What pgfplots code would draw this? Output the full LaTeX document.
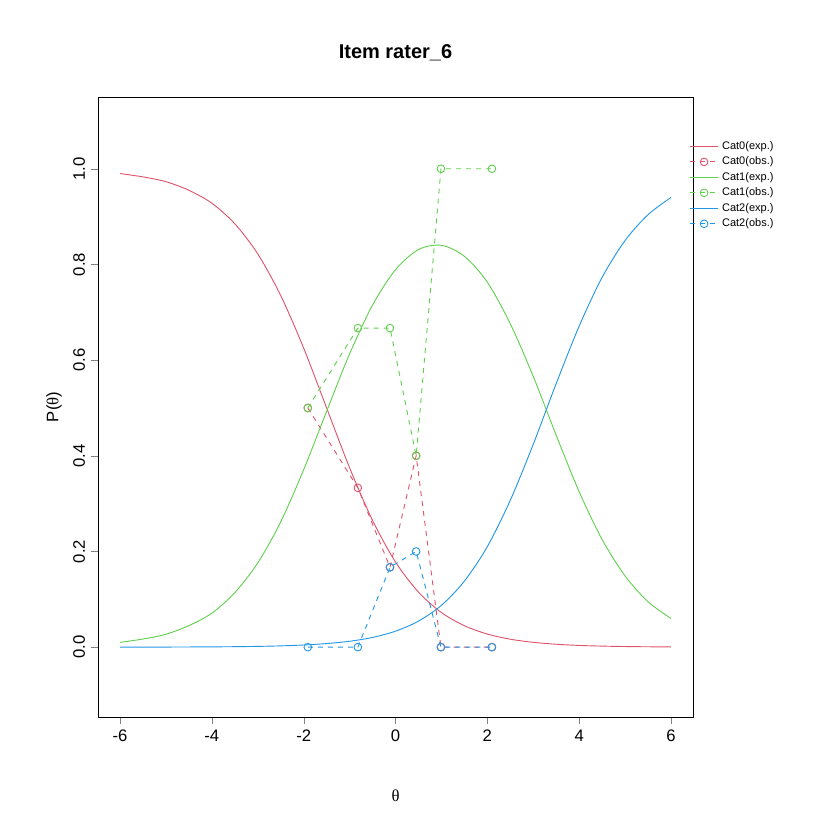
\documentclass[border=0pt]{standalone}
\usepackage{pgfplots}
\pgfplotsset{compat=1.18}
\usepackage{fontspec}
\setmainfont{Liberation Sans}
\newfontfamily\serifth{Liberation Serif}
\definecolor{rred}{HTML}{DF536B}
\definecolor{rgreen}{HTML}{61D04F}
\definecolor{rblue}{HTML}{2297E6}
\begin{document}
\begin{tikzpicture}
\begin{axis}[at={(0,0)},anchor=south west,scale only axis,
 width=357pt,height=372pt,
 xmin=-6.48,xmax=6.48,ymin=-0.146,ymax=1.15,
 xtick={-6,-4,-2,0,2,4,6},ytick={0,0.2,0.4,0.6,0.8,1.0},
 yticklabel style={rotate=90,/pgf/number format/fixed,/pgf/number format/fixed zerofill,/pgf/number format/precision=1},
 /pgf/number format/assume math mode=true,
 tick label style={font=\fontsize{10}{12}\selectfont},
 xtick pos=left,ytick pos=left,tick align=outside,
 every axis plot/.append style={line width=0.55pt},
 title={\bfseries Item rater\_6},title style={font=\fontsize{12}{14}\selectfont,yshift=12pt},
 xlabel={\serifth θ},ylabel={P({\serifth θ})},
 xlabel style={yshift=-22pt},
 label style={font=\fontsize{10}{12}\selectfont},
 legend style={at={(0.985,0.94)},anchor=north west,draw=none,fill=none,font=\fontsize{6.6}{7.5}\selectfont,row sep=-1pt},
 legend cell align=left,
]
\addplot[rred,smooth] coordinates {(-6,0.990)(-5.5,0.983)(-5,0.973)(-4.5,0.955)(-4,0.928)(-3.5,0.885)(-3,0.822)(-2.5,0.735)(-2,0.625)(-1.5,0.5)(-1,0.375)(-0.5,0.265)(0,0.178)(0.5,0.115)(1,0.0724)(1.5,0.0448)(2,0.0274)(2.5,0.0166)(3,0.0101)(3.5,0.0061)(4,0.0036)(4.5,0.0022)(5,0.0013)(5.5,0.0008)(6,0.0005)};
\addlegendentry{Cat0(exp.)}
\addplot[rred,dashed,mark=o,mark options={solid},mark size=2.3pt] coordinates {(-1.91,0.5)(-0.82,0.333)(-0.12,0.167)(0.45,0.4)(0.99,0)(2.1,0)};
\addlegendentry{Cat0(obs.)}
\addplot[rgreen,smooth] coordinates {(-6,0.010)(-5.5,0.017)(-5,0.027)(-4.5,0.045)(-4,0.071)(-3.5,0.114)(-3,0.176)(-2.5,0.262)(-2,0.371)(-1.5,0.493)(-1,0.613)(-0.5,0.715)(0,0.789)(0.5,0.831)(1,0.840)(1.5,0.817)(2,0.763)(2.5,0.676)(3,0.566)(3.5,0.443)(4,0.325)(4.5,0.225)(5,0.149)(5.5,0.095)(6,0.060)};
\addlegendentry{Cat1(exp.)}
\addplot[rgreen,dashed,mark=o,mark options={solid},mark size=2.3pt] coordinates {(-1.91,0.5)(-0.82,0.667)(-0.12,0.667)(0.45,0.4)(0.99,1)(2.1,1)};
\addlegendentry{Cat1(obs.)}
\addplot[rblue,smooth] coordinates {(-6,0.0001)(-5.5,0.0001)(-5,0.0002)(-4.5,0.0004)(-4,0.0006)(-3.5,0.0010)(-3,0.0016)(-2.5,0.0027)(-2,0.0045)(-1.5,0.0075)(-1,0.0123)(-0.5,0.0203)(0,0.0334)(0.5,0.0544)(1,0.0874)(1.5,0.138)(2,0.210)(2.5,0.307)(3,0.424)(3.5,0.551)(4,0.671)(4.5,0.773)(5,0.850)(5.5,0.904)(6,0.940)};
\addlegendentry{Cat2(exp.)}
\addplot[rblue,dashed,mark=o,mark options={solid},mark size=2.3pt] coordinates {(-1.91,0)(-0.82,0)(-0.12,0.167)(0.45,0.2)(0.99,0)(2.1,0)};
\addlegendentry{Cat2(obs.)}
\end{axis}
\path[use as bounding box] (-58.8pt,-73.8pt) rectangle (445.2pt,430.2pt);
\end{tikzpicture}
\end{document}
